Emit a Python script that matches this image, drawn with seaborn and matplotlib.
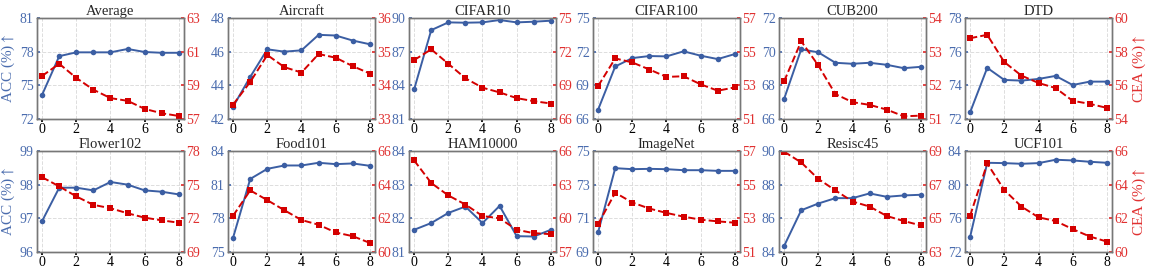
import numpy as np
import pandas as pd
import seaborn as sns
import matplotlib
matplotlib.use("Agg")
import matplotlib.pyplot as plt

rounds = list(range(9))

datasets = ["Average", "Aircraft", "CIFAR10", "CIFAR100", "CUB200", "DTD",
            "Flower102", "Food101", "HAM10000", "ImageNet", "Resisc45", "UCF101"]

acc_average = [74.16, 77.6, 77.94, 77.94, 77.94, 78.24, 77.97, 77.9, 77.9]
acc_aircraft = [42.74, 44.5, 46.14, 46.0, 46.08, 47.0, 46.96, 46.66, 46.44]
acc_cifar10 = [83.64, 88.92, 89.61, 89.58, 89.61, 89.82, 89.61, 89.67, 89.76]
acc_cifar100 = [66.84, 70.68, 71.43, 71.61, 71.58, 72.03, 71.64, 71.34, 71.79]
acc_cub200 = [67.2, 70.14, 69.96, 69.34, 69.28, 69.34, 69.22, 69.02, 69.1]
acc_dtd = [72.4, 75.04, 74.32, 74.28, 74.38, 74.56, 74.02, 74.22, 74.22]
acc_flower102 = [96.92, 97.91, 97.91, 97.83, 98.08, 98.0, 97.83, 97.79, 97.71]
acc_food101 = [76.29, 81.51, 82.41, 82.71, 82.71, 82.95, 82.83, 82.89, 82.68]
acc_ham10000 = [81.66, 81.86, 82.16, 82.35, 81.86, 82.37, 81.47, 81.46, 81.66]
acc_imagenet = [70.18, 73.98, 73.92, 73.94, 73.92, 73.86, 73.86, 73.82, 73.82]
acc_resisc45 = [84.36, 86.48, 86.88, 87.2, 87.2, 87.48, 87.28, 87.36, 87.4]
acc_ucf101 = [73.8, 82.6, 82.56, 82.48, 82.56, 82.96, 82.88, 82.72, 82.6]

cea_average = [59.56, 60.28, 59.44, 58.74, 58.24, 58.08, 57.6, 57.34, 57.18]
cea_aircraft = [33.43, 34.1, 34.9, 34.54, 34.38, 34.93, 34.82, 34.57, 34.35]
cea_cifar10 = [71.25, 72.21, 70.92, 69.63, 68.79, 68.37, 67.86, 67.59, 67.38]
cea_cifar100 = [52.96, 54.6, 54.36, 53.94, 53.5, 53.54, 53.06, 52.68, 52.88]
cea_cub200 = [52.12, 53.31, 52.59, 51.74, 51.5, 51.42, 51.28, 51.08, 51.1]
cea_dtd = [58.8, 59.0, 57.38, 56.58, 56.14, 55.84, 55.08, 54.9, 54.66]
cea_flower102 = [75.66, 74.85, 73.95, 73.2, 72.9, 72.45, 72.06, 71.82, 71.61]
cea_food101 = [62.16, 63.66, 63.08, 62.48, 61.9, 61.62, 61.16, 60.94, 60.54]
cea_ham10000 = [65.16, 63.15, 62.04, 61.23, 60.21, 60.0, 58.98, 58.68, 58.59]
cea_imagenet = [52.66, 54.52, 53.94, 53.58, 53.32, 53.1, 52.92, 52.82, 52.74]
cea_resisc45 = [68.96, 68.32, 67.34, 66.66, 66.0, 65.7, 65.14, 64.84, 64.58]
cea_ucf101 = [62.16, 65.26, 63.68, 62.7, 62.06, 61.84, 61.36, 60.92, 60.62]

acc_ticks = [[72, 75, 78, 81], [42, 44, 46, 48], [81, 84, 87, 90], [66, 69, 72, 75],
             [66, 68, 70, 72], [72, 74, 76, 78], [96, 97, 98, 99], [75, 78, 81, 84],
             [81, 82, 83, 84], [69, 71, 73, 75], [84, 86, 88, 90], [72, 76, 80, 84]]
cea_ticks = [[57, 59, 61, 63], [33, 34, 35, 36], [66, 69, 72, 75], [51, 53, 55, 57],
             [51, 52, 53, 54], [54, 56, 58, 60], [69, 72, 75, 78], [60, 62, 64, 66],
             [57, 60, 63, 66], [51, 53, 55, 57], [63, 65, 67, 69], [60, 62, 64, 66]]

acc_all = [acc_average, acc_aircraft, acc_cifar10, acc_cifar100, acc_cub200, acc_dtd,
           acc_flower102, acc_food101, acc_ham10000, acc_imagenet, acc_resisc45, acc_ucf101]
cea_all = [cea_average, cea_aircraft, cea_cifar10, cea_cifar100, cea_cub200, cea_dtd,
           cea_flower102, cea_food101, cea_ham10000, cea_imagenet, cea_resisc45, cea_ucf101]

blue = "#3b5ea3"
red = "#d40000"
tick_blue = "#4a6cae"
tick_red = "#e03030"

sns.set_theme(style="ticks")
plt.rcParams['font.family'] = ['Liberation Serif', 'DejaVu Serif']
plt.rcParams['mathtext.fontset'] = 'stix'

fig = plt.figure(figsize=(11.51, 2.73), dpi=100)
W, H = 1151.0, 273.0
lefts = [37, 228, 409, 593, 779, 965]
axw = 147
tops = [18, 151]
axh = 101

for i, name in enumerate(datasets):
    r, c = divmod(i, 6)
    ax = fig.add_axes([lefts[c] / W, 1 - (tops[r] + axh) / H, axw / W, axh / H])
    ax2 = ax.twinx()
    df = pd.DataFrame({"round": rounds, "acc": acc_all[i], "cea": cea_all[i]})

    sns.lineplot(data=df, x="round", y="acc", ax=ax, color=blue, marker="o",
                 markersize=4, markeredgewidth=0, linewidth=1.4)
    sns.lineplot(data=df, x="round", y="cea", ax=ax2, color=red, marker="s",
                 markersize=4, markeredgewidth=0, linewidth=1.4, linestyle="--")

    at, ct = acc_ticks[i], cea_ticks[i]
    ax.set_ylim(at[0], at[-1])
    ax.set_yticks(at)
    ax2.set_ylim(ct[0], ct[-1])
    ax2.set_yticks(ct)
    ax.set_xlim(-0.3, 8.3)
    ax.set_xticks([0, 2, 4, 6, 8])
    ax.set_xlabel("")
    ax.set_ylabel("")
    ax2.set_ylabel("")
    ax.grid(True, linestyle="--", color="#dddddd", linewidth=0.7)
    ax.set_title(name, fontsize=10.5, pad=2)

    ax.tick_params(axis="y", colors=tick_blue, labelsize=10, length=2.5,
                   direction="in", pad=2.5)
    ax.tick_params(axis="x", colors="black", labelsize=10, length=2,
                   direction="out", pad=1)
    ax2.tick_params(axis="y", colors=tick_red, labelsize=10, length=2.5,
                    direction="in", pad=1.5)
    for a in (ax, ax2):
        for s in a.spines.values():
            s.set_color("#777777")
            s.set_linewidth(1.0)

    if c == 0:
        ax.set_ylabel(r"ACC (%)$\uparrow$", color=tick_blue, fontsize=11, labelpad=2)
    if c == 5:
        ax2.set_ylabel(r"CEA (%)$\uparrow$", color=tick_red, fontsize=11, labelpad=2)

fig.savefig("out.png", dpi=100)
